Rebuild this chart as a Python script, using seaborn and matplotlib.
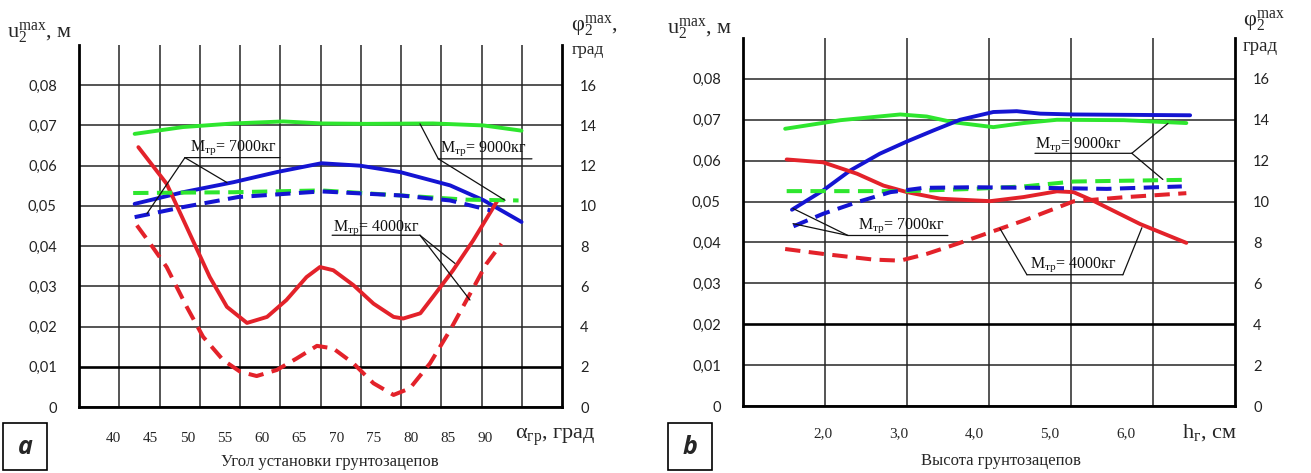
import matplotlib
matplotlib.use("Agg")
import matplotlib.pyplot as plt
from matplotlib.patches import Rectangle
import numpy as np
import pandas as pd
import seaborn as sns

# ---------------- panel a: angle of lugs (deg) ----------------
a_xticks = [40, 45, 50, 55, 60, 65, 70, 75, 80, 85, 90]
a_xticklabels = ["40", "45", "50", "55", "60", "65", "70", "75", "80", "85", "90"]

a_u9000_x = [42.9, 49.4, 56.2, 62.9, 68.0, 74.1, 83.0, 89.8, 94.9]
a_u9000 = [0.0679, 0.0696, 0.0705, 0.0710, 0.0705, 0.0704, 0.0705, 0.0700, 0.0687]
a_u7000_x = [42.9, 49.4, 56.2, 62.0, 68.0, 73.2, 78.6, 85.3, 89.8, 94.9]
a_u7000 = [0.0505, 0.0534, 0.0559, 0.0584, 0.0606, 0.0600, 0.0584, 0.0551, 0.0514, 0.0460]
a_u4000_x = [43.4, 47.2, 49.9, 53.0, 55.3, 58.0, 60.7, 63.3, 66.0, 67.8, 69.6, 72.3,
             75.0, 77.7, 79.0, 81.3, 83.0, 85.7, 88.4, 91.6]
a_u4000 = [0.0646, 0.0555, 0.0447, 0.0323, 0.0249, 0.0209, 0.0224, 0.0266, 0.0323, 0.0348,
           0.0340, 0.0303, 0.0257, 0.0224, 0.0220, 0.0233, 0.0274, 0.0340, 0.0414, 0.0511]

a_phi9000_x = [42.7, 56.2, 68.0, 78.6, 87.5, 94.5]
a_phi9000 = [10.64, 10.68, 10.77, 10.52, 10.31, 10.27]
a_phi7000_x = [42.9, 49.4, 56.8, 68.0, 78.6, 85.3, 90.7]
a_phi7000 = [9.44, 9.94, 10.44, 10.72, 10.52, 10.27, 9.78]
a_phi4000_x = [43.2, 45.0, 47.2, 49.9, 52.1, 54.8, 57.1, 59.3, 62.0, 64.7, 67.4, 69.6,
               72.3, 75.0, 77.7, 79.9, 82.6, 85.3, 88.0, 90.2, 92.2]
a_phi4000 = [9.03, 8.12, 6.96, 4.98, 3.49, 2.33, 1.75, 1.54, 1.84, 2.42, 3.04, 2.91,
             2.17, 1.18, 0.60, 0.93, 2.17, 3.82, 5.64, 7.13, 8.12]

# ---------------- panel b: height of lugs (cm) ----------------
b_xticks = [2.0, 3.0, 4.0, 5.0, 6.0]
b_xticklabels = ["2,0", "3,0", "4,0", "5,0", "6,0"]

b_u9000_x = [1.50, 2.23, 3.02, 3.37, 3.72, 4.25, 4.65, 5.09, 5.97, 6.80]
b_u9000 = [0.0678, 0.0699, 0.0713, 0.0708, 0.0694, 0.0682, 0.0692, 0.0700, 0.0699, 0.0692]
b_u7000_x = [1.59, 2.00, 2.36, 2.75, 3.11, 3.46, 3.81, 4.25, 4.56, 4.87, 5.31, 6.85]
b_u7000 = [0.0480, 0.0527, 0.0576, 0.0617, 0.0647, 0.0674, 0.0700, 0.0719, 0.0721, 0.0715,
           0.0713, 0.0711]
b_u4000_x = [1.52, 2.00, 2.45, 2.80, 3.11, 3.55, 4.21, 4.65, 5.09, 5.31, 5.57, 6.19, 6.80]
b_u4000 = [0.0603, 0.0596, 0.0568, 0.0539, 0.0523, 0.0507, 0.0501, 0.0511, 0.0525, 0.0523,
           0.0502, 0.0445, 0.0399]

b_phi9000_x = [1.52, 3.11, 3.99, 4.65, 5.31, 6.74]
b_phi9000 = [10.51, 10.51, 10.62, 10.74, 10.98, 11.06]
b_phi7000_x = [1.61, 2.00, 2.45, 2.89, 3.33, 3.99, 4.87, 5.75, 6.74]
b_phi7000 = [8.79, 9.40, 9.97, 10.46, 10.67, 10.70, 10.67, 10.62, 10.74]
b_phi4000_x = [1.50, 2.00, 2.67, 3.02, 3.37, 3.77, 4.21, 4.65, 5.31, 5.97, 6.80]
b_phi4000 = [7.68, 7.44, 7.16, 7.11, 7.44, 7.93, 8.50, 9.07, 10.01, 10.21, 10.41]

u_ticks = [0, 0.01, 0.02, 0.03, 0.04, 0.05, 0.06, 0.07, 0.08]
u_ticklabels = ["0", "0,01", "0,02", "0,03", "0,04", "0,05", "0,06", "0,07", "0,08"]
phi_ticks = [0, 2, 4, 6, 8, 10, 12, 14, 16]
phi_ticklabels = ["0", "2", "4", "6", "8", "10", "12", "14", "16"]

GREEN = "#2EE62E"
BLUE = "#1414D2"
RED = "#E3222A"

sns.set_theme(style="white")
plt.rcParams['font.family'] = ['Liberation Serif', 'DejaVu Serif']
plt.rcParams['mathtext.fontset'] = 'custom'
plt.rcParams['mathtext.rm'] = 'Liberation Serif'
plt.rcParams['mathtext.it'] = 'Liberation Serif:italic'
plt.rcParams['mathtext.bf'] = 'Liberation Serif:bold'

W, H = 1311, 473
fig = plt.figure(figsize=(W / 100, H / 100), dpi=100)
fig.patch.set_facecolor("white")


def fx(px):
    return px / W


def fy(py):
    return 1 - py / H


def make_axes(l, r, t, b, xlim, xticks, xticklabels, xpad, bold_row):
    ax = fig.add_axes([fx(l), fy(b), fx(r) - fx(l), fy(t) - fy(b)])
    ax2 = ax.twinx()
    ax.set_xlim(*xlim)
    ax.set_ylim(0, 0.09)
    ax2.set_ylim(0, 18)
    ax.set_xticks(xticks)
    ax.set_xticklabels(xticklabels, fontsize=11, fontfamily="Liberation Serif")
    ax.set_xticks(np.linspace(xlim[0], xlim[1], 13 if len(xticks) > 6 else 7)[1:-1], minor=True)
    ax.set_yticks(u_ticks)
    ax.set_yticklabels(u_ticklabels, fontsize=10.5, fontfamily="Lato")
    ax2.set_yticks(phi_ticks)
    ax2.set_yticklabels(phi_ticklabels, fontsize=10.5, fontfamily="Lato")
    ax.tick_params(axis="x", which="both", length=0, pad=xpad)
    ax.tick_params(axis="y", which="both", length=0, pad=16, colors="#222222")
    ax2.tick_params(axis="y", length=0, pad=13, colors="#222222")
    ax.set_axisbelow(True)
    ax.grid(True, axis="y", which="major", color="#262626", lw=1.1)
    ax.grid(True, axis="x", which="minor", color="#262626", lw=1.1)
    ax.grid(False, axis="x", which="major")
    ax2.grid(False)
    gl = ax.get_ygridlines()
    gl[bold_row].set_linewidth(1.9)
    gl[bold_row].set_color("black")
    for s in ["left", "right", "bottom"]:
        ax.spines[s].set_visible(True)
        ax.spines[s].set_color("black")
        ax.spines[s].set_linewidth(2.0)
    ax.spines["top"].set_visible(False)
    for s in ax2.spines.values():
        s.set_visible(False)
    ax.set_facecolor("white")
    return ax, ax2


def curve(ax, x, y, color, dashed):
    if dashed:
        sns.lineplot(x=x, y=y, ax=ax, color=color, lw=2.9, linestyle=(0, (3.8, 2.1)),
                     estimator=None, sort=False, legend=False, dash_capstyle="butt")
    else:
        sns.lineplot(x=x, y=y, ax=ax, color=color, lw=2.8, estimator=None, sort=False,
                     legend=False, solid_capstyle="round", solid_joinstyle="round")


def leader(ax2, ax, p0, p1):
    ax2.annotate("", xy=p1, xycoords=ax.transData, xytext=p0, textcoords=ax.transData,
                 arrowprops=dict(arrowstyle="-", lw=0.9, color="#111111",
                                 shrinkA=0, shrinkB=0))


def label(ax2, ax, x, y, mass):
    ax2.text(x, y, r"$\mathregular{M_{тр}}$= " + mass + "кг", transform=ax.transData,
             fontsize=11.5, ha="left", va="baseline", color="#111111")


# ---------------- panel a ----------------
a_xlim = (35.42, 100.34)
axA, axA2 = make_axes(79, 562, 45, 407, a_xlim, a_xticks, a_xticklabels, 18, 1)
curve(axA, a_u9000_x, a_u9000, GREEN, False)
curve(axA, a_u7000_x, a_u7000, BLUE, False)
curve(axA, a_u4000_x, a_u4000, RED, False)
curve(axA2, a_phi9000_x, a_phi9000, GREEN, True)
curve(axA2, a_phi7000_x, a_phi7000, BLUE, True)
curve(axA2, a_phi4000_x, a_phi4000, RED, True)
axA.set_xlim(*a_xlim); axA.set_ylim(0, 0.09); axA2.set_ylim(0, 18)
axA.set_xlabel(""); axA.set_ylabel(""); axA2.set_ylabel("")

label(axA2, axA, 50.34, 0.0638, "7000")
leader(axA2, axA, (49.66, 0.0620), (62.43, 0.0620))
leader(axA2, axA, (49.66, 0.0620), (44.56, 0.0481))
leader(axA2, axA, (49.66, 0.0620), (55.31, 0.0558))

label(axA2, axA, 83.94, 0.0634, "9000")
leader(axA2, axA, (83.71, 0.0617), (96.3, 0.0617))
leader(axA2, axA, (83.71, 0.0617), (81.25, 0.0704))
leader(axA2, axA, (83.71, 0.0617), (92.68, 0.0514))

label(axA2, axA, 69.6, 0.0439, "4000")
leader(axA2, axA, (69.44, 0.0427), (81.25, 0.0427))
leader(axA2, axA, (81.25, 0.0427), (85.95, 0.0357))
leader(axA2, axA, (81.25, 0.0427), (87.97, 0.0266))

# ---------------- panel b ----------------
b_xlim = (0.943, 7.443)
axB, axB2 = make_axes(743, 1235, 38, 406, b_xlim, b_xticks, b_xticklabels, 15, 2)
curve(axB, b_u9000_x, b_u9000, GREEN, False)
curve(axB, b_u7000_x, b_u7000, BLUE, False)
curve(axB, b_u4000_x, b_u4000, RED, False)
curve(axB2, b_phi9000_x, b_phi9000, GREEN, True)
curve(axB2, b_phi7000_x, b_phi7000, BLUE, True)
curve(axB2, b_phi4000_x, b_phi4000, RED, True)
axB.set_xlim(*b_xlim); axB.set_ylim(0, 0.09); axB2.set_ylim(0, 18)
axB.set_xlabel(""); axB.set_ylabel(""); axB2.set_ylabel("")

label(axB2, axB, 4.80, 0.0633, "9000")
leader(axB2, axB, (4.80, 0.0618), (6.08, 0.0618))
leader(axB2, axB, (6.08, 0.0618), (6.557, 0.0691))
leader(axB2, axB, (6.08, 0.0618), (6.49, 0.0554))

label(axB2, axB, 2.46, 0.0433, "7000")
leader(axB2, axB, (2.33, 0.0417), (3.65, 0.0417))
leader(axB2, axB, (2.33, 0.0417), (1.604, 0.0483))
leader(axB2, axB, (2.33, 0.0417), (1.604, 0.0446))

label(axB2, axB, 4.73, 0.0339, "4000")
leader(axB2, axB, (4.338, 0.0434), (4.694, 0.0321))
leader(axB2, axB, (4.694, 0.0321), (5.962, 0.0321))
leader(axB2, axB, (5.962, 0.0321), (6.213, 0.0436))

# ---------------- figure texts ----------------
fig.text(fx(7), fy(38), r"$\mathregular{u_2^{max}}$, м", fontsize=16, ha="left", va="baseline")
fig.text(fx(667), fy(34), r"$\mathregular{u_2^{max}}$, м", fontsize=16, ha="left", va="baseline")
fig.text(fx(571), fy(31), r"$\mathregular{φ_2^{max}}$,", fontsize=16, ha="left", va="baseline")
fig.text(fx(572), fy(54), "град", fontsize=12.5, ha="left", va="baseline")
fig.text(fx(1243), fy(26), r"$\mathregular{φ_2^{max}}$", fontsize=16, ha="left", va="baseline")
fig.text(fx(1243), fy(51), "град", fontsize=13.5, ha="left", va="baseline")

fig.text(fx(515), fy(437), r"$\mathregular{α_{гр}}$, град", fontsize=16, ha="left", va="center")
fig.text(fx(1182), fy(433), r"$\mathregular{h_{г}}$, см", fontsize=16, ha="left", va="center")
fig.text(fx(330), fy(462), "Угол установки грунтозацепов", fontsize=12, ha="center", va="center")
fig.text(fx(1001), fy(461), "Высота грунтозацепов", fontsize=12, ha="center", va="center")

for (l, lab) in [(3, "a"), (668, "b")]:
    fig.add_artist(Rectangle((fx(l), fy(470)), 44 / W, 47 / H, transform=fig.transFigure,
                             fill=False, lw=1.2, ec="black"))
    fig.text(fx(l + 22), fy(447), lab, fontsize=18, fontfamily="Open Sans",
             fontstyle="italic", fontweight="bold", ha="center", va="center")

fig.savefig("out.png", dpi=100, facecolor="white")
